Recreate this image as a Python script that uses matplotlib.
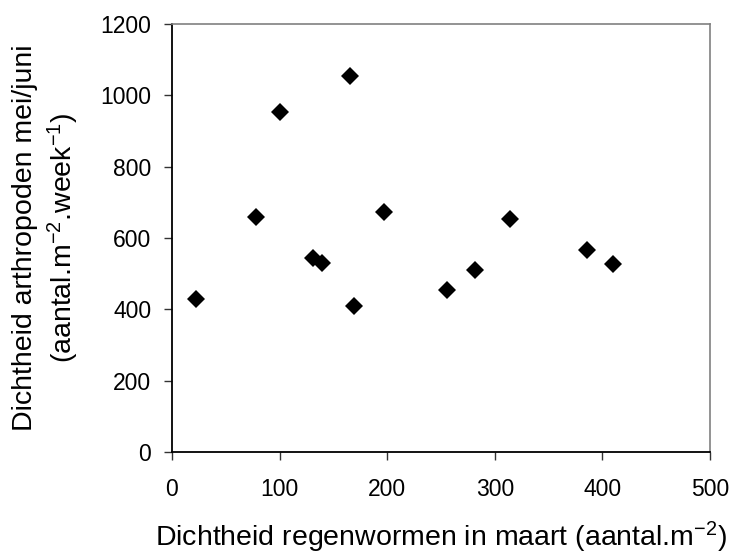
import numpy as np
import matplotlib
matplotlib.use('Agg')
import matplotlib.pyplot as plt

plt.rcParams['font.family'] = ['Liberation Sans', 'DejaVu Sans']
plt.rcParams['mathtext.fontset'] = 'custom'
plt.rcParams['mathtext.rm'] = 'Liberation Sans'
plt.rcParams['mathtext.it'] = 'Liberation Sans:italic'
plt.rcParams['mathtext.bf'] = 'Liberation Sans:bold'

# regenwormen (maart) vs arthropoden (mei/juni)
wormen = [22, 78, 100, 165, 131, 139, 169, 197, 256, 282, 314, 386, 410]
arthropoden = [430, 660, 953, 1055, 545, 530, 410, 673, 455, 510, 652, 567, 528]

x_ticks = [0, 100, 200, 300, 400, 500]
y_ticks = [0, 200, 400, 600, 800, 1000, 1200]

fig = plt.figure(figsize=(7.35, 5.6), dpi=100)
ax = fig.add_axes([0.234, 0.193, 0.732, 0.764])

ax.plot(wormen, arthropoden, linestyle='none', marker='D', ms=9,
        color='black', mew=0, clip_on=False)

ax.set_xlim(0, 500)
ax.set_ylim(0, 1200)
ax.set_xticks(x_ticks)
ax.set_yticks(y_ticks)

for s in ['top', 'right']:
    ax.spines[s].set_color('#808080')
    ax.spines[s].set_linewidth(1.2)
for s in ['left', 'bottom']:
    ax.spines[s].set_color('black')
    ax.spines[s].set_linewidth(1.3)

ax.tick_params(direction='out', length=6, width=1, color='#333333',
               labelsize=16.5, top=False, right=False)
ax.tick_params(axis='y', pad=9)
ax.tick_params(axis='x', pad=13)

ax.set_xlabel('Dichtheid regenwormen in maart (aantal.m$^{-2}$)',
              fontsize=20.5, labelpad=13)
ax.set_ylabel('Dichtheid arthropoden mei/juni\n(aantal.m$^{-2}$.week$^{-1}$)',
              fontsize=20.5, labelpad=14, linespacing=1.3)

fig.savefig('out.png', dpi=100)
